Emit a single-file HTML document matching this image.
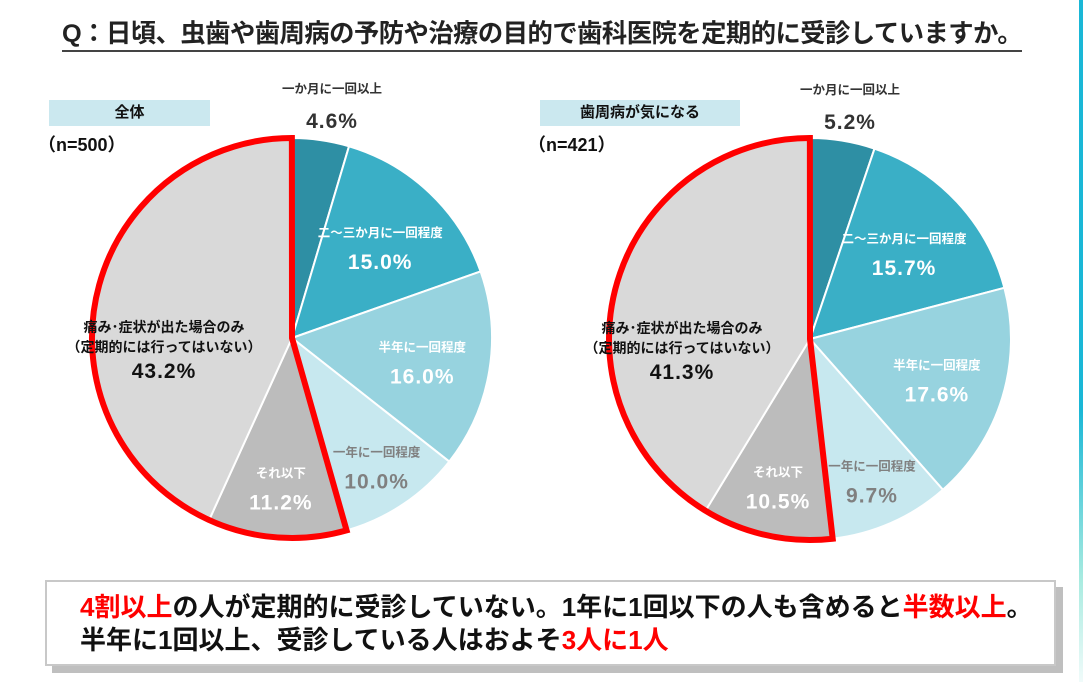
<!DOCTYPE html>
<html><head><meta charset="utf-8">
<style>
body{margin:0;width:1083px;height:682px;background:#fff;overflow:hidden;position:relative;font-family:"Liberation Sans","Noto Sans CJK JP",sans-serif;}
.title{position:absolute;left:62px;top:14px;font-size:25.3px;font-weight:bold;color:#222;border-bottom:2px solid #444;padding-bottom:0px;white-space:nowrap;letter-spacing:-0.5px}
.tag{position:absolute;background:#cbe8ef;font-weight:bold;font-size:15px;text-align:center;line-height:26px;height:26px;color:#111}
.n{position:absolute;font-weight:bold;font-size:18px;color:#111}
.box{position:absolute;left:45px;top:580px;width:1007px;height:82px;border:2px solid #c8c8c8;background:#fff;box-shadow:7px 7px 0 #bfbfbf;font-weight:bold;font-size:26px;color:#111}
.box div{position:absolute;left:33px;white-space:nowrap;line-height:30px}
.r{color:#f00}
.strip{position:absolute;left:1079px;top:0;width:4px;height:682px;background:linear-gradient(#1ab7d6 0%,#1ab7d6 60%,#a8ebe0 85%,#f0fbfa 100%)}
</style></head><body>
<div class="title">Q：日頃、虫歯や歯周病の予防や治療の目的で歯科医院を定期的に受診していますか。</div>
<div class="tag" style="left:49px;top:100px;width:161px">全体</div>
<div class="n" style="left:38px;top:131px">（n=500）</div>
<div class="tag" style="left:540px;top:100px;width:200px">歯周病が気になる</div>
<div class="n" style="left:528px;top:131px">（n=421）</div>
<svg id="svg" width="1083" height="682" style="position:absolute;left:0;top:0"></svg>
<div class="box">
<div style="top:10px"><span class="r">4割以上</span>の人が定期的に受診していない。1年に1回以下の人も含めると<span class="r">半数以上</span>。</div>
<div style="top:43px">半年に1回以上、受診している人はおよそ<span class="r">3人に1人</span></div>
</div>
<div class="strip"></div>
<script>
const categories=["一か月に一回以上","二～三か月に一回程度","半年に一回程度","一年に一回程度","それ以下","痛み・症状が出た場合のみ"];
const valuesAll=[4.6,15.0,16.0,10.0,11.2,43.2];
const valuesGum=[5.2,15.7,17.6,9.7,10.5,41.3];
const colors=["#2e8fa4","#3aafc6","#97d3df","#c7e8ef","#bcbcbc","#d9d9d9"];
const textColors=["#333","#fff","#fff","#808080","#fff","#111"];
const labelRadius=[0,0.64,0.66,0.76,0.74,0];
const NS="http://www.w3.org/2000/svg";
const svg=document.getElementById('svg');
function mk(t,a){const e=document.createElementNS(NS,t);for(const k in a)e.setAttribute(k,a[k]);return e;}
function pt(cx,cy,r,f){const a=f*2*Math.PI;return [cx+r*Math.sin(a),cy-r*Math.cos(a)];}
function pie(cx,cy,R,vals,id){
  const tot=vals.reduce((a,b)=>a+b,0);let c=0;const starts=[];
  vals.forEach((v,i)=>{
    const f0=c/tot,f1=(c+v)/tot;starts.push(f0);c+=v;
    const p0=pt(cx,cy,R,f0),p1=pt(cx,cy,R,f1);
    const p=mk('path',{d:`M${cx},${cy}L${p0[0]},${p0[1]}A${R},${R} 0 ${f1-f0>0.5?1:0} 1 ${p1[0]},${p1[1]}Z`,fill:colors[i],stroke:'#fff','stroke-width':2});
    
    
    svg.appendChild(p);
  });
  const fs=starts[4],q0=pt(cx,cy,R,fs);const q1=pt(cx,cy,R,0.9999);
  const o=mk('path',{d:`M${cx},${cy}L${q0[0]},${q0[1]}A${R},${R} 0 ${1-fs>0.5?1:0} 1 ${q1[0]},${q1[1]}Z`,fill:'none',stroke:'#f00','stroke-width':6,'stroke-linejoin':'miter'});
  
  
  svg.appendChild(o);
  vals.forEach((v,i)=>{
    const mid=starts[i]+v/tot/2;
    let nameYs,valY,x,nameLines=[categories[i]];
    if(i==0){x=cx+40;nameYs=[cy-245];valY=cy-210;}
    else if(i==5){x=cx-128;nameLines=["痛み･症状が出た場合のみ","（定期的には行ってはいない）"];nameYs=[cy-6,cy+14];valY=cy+40;}
    else{const p=pt(cx,cy,R*labelRadius[i],mid);x=p[0];nameYs=[p[1]-8];valY=p[1]+24;}
    const fill=textColors[i];
    nameLines.forEach((s,k)=>{
      const t=mk('text',{x:x,y:nameYs[k],'text-anchor':'middle','font-size':i==5?14:12.5,'font-weight':'bold',fill:fill});
      t.textContent=s;
      
      
      svg.appendChild(t);
    });
    const t=mk('text',{x:x,y:valY,'text-anchor':'middle','font-size':21,'font-weight':'bold',fill:fill,'letter-spacing':'1'});
    t.textContent=v.toFixed(1)+'%';
    
    
    svg.appendChild(t);
  });
}
pie(292,338,200,valuesAll,'all');
pie(810,339,201,valuesGum,'gum');
</script>
</body></html>
